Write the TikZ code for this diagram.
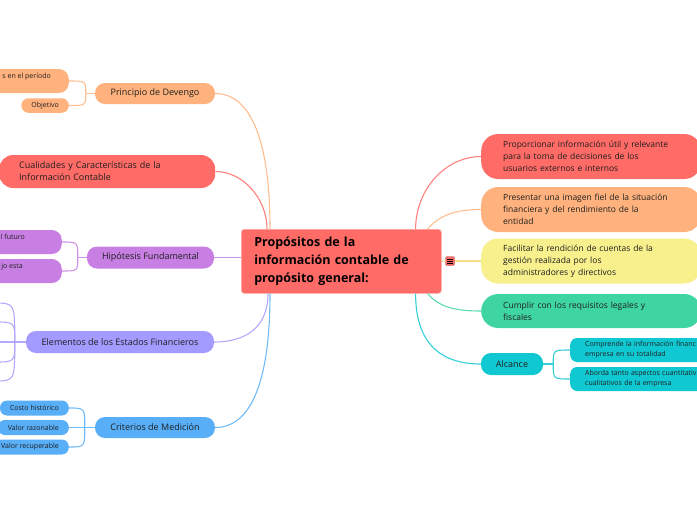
\documentclass[tikz,border=0pt]{standalone}
\usepackage{fontspec}
\setmainfont{Open Sans}
\usetikzlibrary{calc}
\definecolor{cred}{HTML}{FF6B66}
\definecolor{corange}{HTML}{FFB27D}
\definecolor{cyellow}{HTML}{F8EF8D}
\definecolor{cgreen}{HTML}{3FD5A3}
\definecolor{ccyan}{HTML}{10C8D2}
\definecolor{cpurple}{HTML}{C77FE3}
\definecolor{clav}{HTML}{A39BFF}
\definecolor{cblue}{HTML}{58AEF7}
\definecolor{txt}{HTML}{1F1F1F}
\begin{document}
\begin{tikzpicture}[x=1pt,y=-1pt,
  mid/.style={text=txt, inner ysep=0pt, font=\fontsize{9}{12}\selectfont, rounded corners=10pt, align=center},
  big/.style={text=txt, inner ysep=0pt, inner xsep=22pt, font=\fontsize{8.5}{12}\selectfont, rounded corners=17pt, align=left, anchor=west, text width=176pt},
  sm/.style={text=txt, inner ysep=0pt, font=\fontsize{7}{10}\selectfont, rounded corners=7pt},
  ln/.style={line width=1.1pt, draw=#1!85!white}
]
\useasboundingbox (0,0) rectangle (697,520);
\clip (0,0) rectangle (697,520);

% central node
\node[fill=cred, draw=cred!60!white, line width=0.6pt, rounded corners=3pt, anchor=north west,
  minimum width=200pt, minimum height=64pt, text width=174pt, inner xsep=13pt, align=left,
  font=\fontsize{12.5}{18}\selectfont\bfseries, text=black] (c) at (241,229)
  {Propósitos de la\\información contable de\\propósito general:};

% right nodes
\node[big, fill=cred, minimum height=45pt] (r1) at (481,156.5)
  {Proporcionar información útil y relevante\\para la toma de decisiones de los\\usuarios externos e internos};
\node[big, fill=corange, minimum height=45pt] (r2) at (481,209.5)
  {Presentar una imagen fiel de la situación\\financiera y del rendimiento de la\\entidad};
\node[big, fill=cyellow, minimum height=45pt] (r3) at (481,261)
  {Facilitar la rendición de cuentas de la\\gestión realizada por los\\administradores y directivos};
\node[big, fill=cgreen, minimum height=34pt] (r4) at (481,311)
  {Cumplir con los requisitos legales y\\fiscales};
\node[mid, fill=ccyan, minimum width=62pt, minimum height=22pt] (al) at (512,364) {Alcance};
\node[sm, fill=ccyan, anchor=west, minimum height=24pt, inner xsep=15pt, align=left, text width=140pt] (a1) at (570,350)
  {Comprende la información financ\\empresa en su totalidad};
\node[sm, fill=ccyan, anchor=west, minimum height=24pt, inner xsep=15pt, align=left, text width=140pt] (a2) at (570,379)
  {Aborda tanto aspectos cuantitativ\\cualitativos de la empresa};

% icon
\node[fill=cred, draw=cred!70!black, line width=0.4pt, rounded corners=1.5pt, minimum size=9pt, inner sep=0pt] (ic) at (450,261) {};
\foreach \dy in {-2,0,2} \draw[black, line width=0.6pt] ($(ic.center)+(-2.6,\dy)$) -- ++(5.2,0);

% left nodes
\node[mid, fill=corange, minimum width=120pt, minimum height=21pt] (dev) at (155,93.5) {Principio de Devengo};
\node[mid, fill=cred, anchor=west, minimum height=33pt, text width=176pt, inner xsep=20pt, align=left, rounded corners=14pt] (cua) at (-1,171.5)
  {Cualidades y Características de la\\Información Contable};
\node[mid, fill=cpurple, minimum width=127pt, minimum height=22pt] (hip) at (150.5,257.5) {Hipótesis Fundamental};
\node[mid, fill=clav, minimum width=188pt, minimum height=22pt] (ele) at (120,342) {Elementos de los Estados Financieros};
\node[mid, fill=cblue, minimum width=120pt, minimum height=21pt] (cri) at (155,427.5) {Criterios de Medición};

% left children
\node[sm, fill=corange, anchor=east, minimum height=24pt, inner xsep=18pt, align=right, rounded corners=10pt] (d1) at (69,81) {s en el período\\\phantom{x}};
\node[sm, fill=corange, anchor=east, minimum height=14.5pt, inner xsep=10pt] (d2) at (69,105.5) {Objetivo};
\node[sm, fill=cpurple, anchor=east, minimum height=24pt, inner xsep=37pt, align=right, rounded corners=10pt] (h1) at (62,242) {l futuro\\\phantom{x}};
\node[sm, fill=cpurple, anchor=east, minimum height=24pt, inner xsep=39pt, align=right, rounded corners=10pt] (h2) at (62,271) {jo esta\\\phantom{x}};
\node[sm, fill=cblue, anchor=east, minimum height=15pt, inner xsep=10pt] (k1) at (69,408) {Costo histórico};
\node[sm, fill=cblue, anchor=east, minimum height=15pt, inner xsep=10pt] (k2) at (69,427.5) {Valor razonable};
\node[sm, fill=cblue, anchor=east, minimum height=15pt, inner xsep=10pt] (k3) at (69,447) {Valor recuperable};

% off-page children of Elementos
\coordinate (e1) at (-6,303);
\coordinate (e2) at (-6,322);
\coordinate (e3) at (-6,342);
\coordinate (e4) at (-6,362);
\coordinate (e5) at (-6,381);

% connectors from centre
\coordinate (pl1) at ($(c.north west)+(29,0)$);
\coordinate (pl2) at ($(c.north west)+(26,0)$);
\coordinate (pl3) at ($(c.south west)+(27,0)$);
\coordinate (pl4) at ($(c.south west)+(29,0)$);
\coordinate (pr1) at ($(c.north east)+(-26,0)$);
\coordinate (pr2) at ($(c.north east)+(-14,0)$);
\coordinate (pr4) at ($(c.south east)+(-14,0)$);
\coordinate (pr5) at ($(c.south east)+(-26,0)$);

\draw[ln=corange] (pl1) .. controls ($(pl1)+(0,-90)$) and ($(dev.east)+(35,0)$) .. (dev.east);
\draw[ln=cred] (pl2) .. controls ($(pl2)+(0,-30)$) and ($(cua.east)+(28,0)$) .. (cua.east);
\draw[ln=cpurple] (c.west |- hip.east) -- (hip.east);
\draw[ln=clav] (pl3) .. controls ($(pl3)+(0,35)$) and ($(ele.east)+(30,0)$) .. (ele.east);
\draw[ln=cblue] (pl4) .. controls ($(pl4)+(0,90)$) and ($(cri.east)+(35,0)$) .. (cri.east);

\draw[ln=cred] (pr1) .. controls ($(pr1)+(0,-40)$) and ($(r1.west)+(-35,0)$) .. (r1.west);
\draw[ln=corange] (pr2) .. controls ($(pr2)+(12,-14)$) and ($(r2.west)+(-25,0)$) .. (r2.west);
\draw[ln=cyellow!80!orange] (c.east) -- (ic.west);
\draw[ln=cyellow!80!orange] (ic.east) -- (r3.west);
\draw[ln=cgreen] (pr4) .. controls ($(pr4)+(12,14)$) and ($(r4.west)+(-25,0)$) .. (r4.west);
\draw[ln=ccyan] (pr5) .. controls ($(pr5)+(0,50)$) and ($(al.west)+(-40,0)$) .. (al.west);

% branches
\coordinate (devb) at ($(dev.west)+(-9,0)$);
\draw[ln=corange] (dev.west) -- (devb);
\draw[ln=corange] (devb) .. controls (devb |- d1.east) .. (d1.east);
\draw[ln=corange] (devb) .. controls (devb |- d2.east) .. (d2.east);

\coordinate (hipb) at ($(hip.west)+(-9,0)$);
\draw[ln=cpurple] (hip.west) -- (hipb);
\draw[ln=cpurple] (hipb) .. controls (hipb |- h1.east) .. (h1.east);
\draw[ln=cpurple] (hipb) .. controls (hipb |- h2.east) .. (h2.east);

\coordinate (eleb) at ($(ele.west)+(-11,0)$);
\draw[ln=clav] (ele.west) -- (eleb);
\foreach \e in {e1,e2,e4,e5}
  \draw[ln=clav] (eleb) .. controls (eleb |- \e) .. (\e);
\draw[ln=clav] (eleb) -- (e3);

\coordinate (crib) at ($(cri.west)+(-10,0)$);
\draw[ln=cblue] (cri.west) -- (crib);
\draw[ln=cblue] (crib) .. controls (crib |- k1.east) .. (k1.east);
\draw[ln=cblue] (crib) -- (k2.east);
\draw[ln=cblue] (crib) .. controls (crib |- k3.east) .. (k3.east);

\coordinate (alb) at ($(al.east)+(10,0)$);
\draw[ln=ccyan] (al.east) -- (alb);
\draw[ln=ccyan] (alb) .. controls (alb |- a1.west) .. (a1.west);
\draw[ln=ccyan] (alb) .. controls (alb |- a2.west) .. (a2.west);
\end{tikzpicture}
\end{document}
